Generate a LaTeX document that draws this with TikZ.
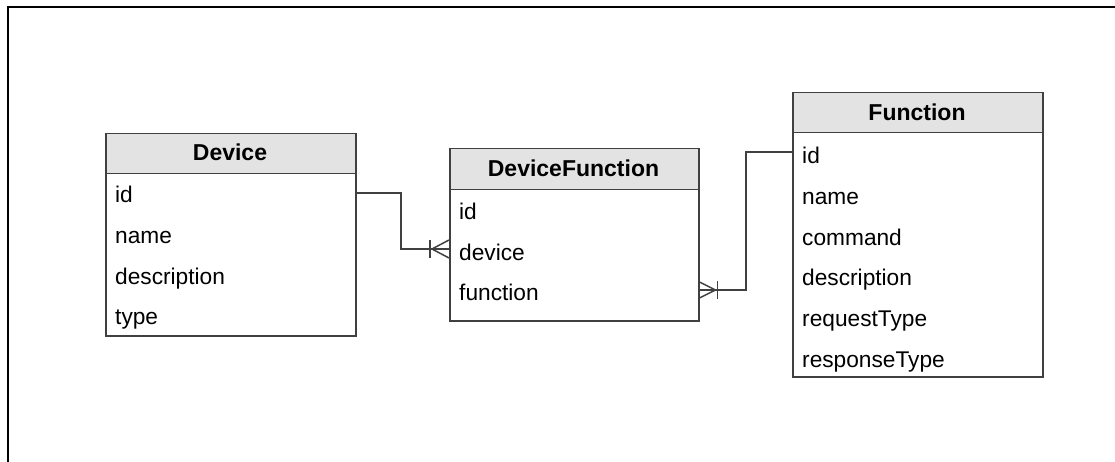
\documentclass[tikz,border=0pt]{standalone}
\usepackage{fontspec}
\setmainfont{Liberation Sans}
\usetikzlibrary{calc}
\definecolor{hdr}{HTML}{E3E3E3}
\definecolor{edge}{HTML}{404040}
\begin{document}
\begin{tikzpicture}[x=1pt,y=-1pt,
  hdrbox/.style={draw=edge,fill=hdr,line width=1.5pt,inner sep=0,anchor=north west},
  bodybox/.style={draw=edge,fill=white,line width=1.5pt,inner sep=0,anchor=north west},
  title/.style={font=\fontsize{23}{27}\selectfont\bfseries,anchor=base,inner sep=0},
  field/.style={font=\fontsize{22.7}{27}\selectfont,anchor=base west,inner sep=0},
  link/.style={draw=edge,line width=1.5pt}]
\useasboundingbox (0,0) rectangle (1115,462);
\draw[line width=2pt] (7.5,462) -- (7.5,7.5) -- (1115,7.5);

% Device
\node[hdrbox,minimum width=250pt,minimum height=40pt] (devhead) at (105,133) {};
\node[bodybox,minimum width=250pt,minimum height=162pt] (devbody) at (105,173) {};
\node[title] (devtitle) at (230,161) {Device};
\node[field] (dev1) at (115,203) {id};
\node[field] (dev2) at (115,243.5) {name};
\node[field] (dev3) at (115,284) {description};
\node[field] (dev4) at (115,324.5) {type};

% DeviceFunction
\node[hdrbox,minimum width=249pt,minimum height=41pt] (dfhead) at (449,148) {};
\node[bodybox,minimum width=249pt,minimum height=131pt] (dfbody) at (449,189) {};
\node[title] (dftitle) at (573.5,177) {DeviceFunction};
\node[field] (df1) at (459,220) {id};
\node[field] (df2) at (459,260) {device};
\node[field] (df3) at (459,300) {function};

% Function
\node[hdrbox,minimum width=250pt,minimum height=40pt] (fnhead) at (792,92) {};
\node[bodybox,minimum width=250pt,minimum height=244pt] (fnbody) at (792,132) {};
\node[title] (fntitle) at (917,121) {Function};
\node[field] (fn1) at (802,164) {id};
\node[field] (fn2) at (802,204.6) {name};
\node[field] (fn3) at (802,245.2) {command};
\node[field] (fn4) at (802,285.8) {description};
\node[field] (fn5) at (802,326.4) {requestType};
\node[field] (fn6) at (802,367) {responseType};

% connector Device.id -> DeviceFunction.device
\coordinate (a0) at ($(devbody.east |- dev1.base)+(0,-10)$);
\coordinate (a1) at ($(dfbody.west |- df2.base)+(0,-11)$);
\draw[link] (a0) -- (401,193) |- (a1);
\draw[link] ($(a1)+(-17,0)$) -- ($(a1)+(0,-9)$);
\draw[link] ($(a1)+(-17,0)$) -- ($(a1)+(0,9)$);
\draw[link] ($(a1)+(-19,-9)$) -- ($(a1)+(-19,9)$);

% connector Function.id -> DeviceFunction.function
\coordinate (b0) at ($(fnbody.west |- fn1.base)+(0,-12)$);
\coordinate (b1) at ($(dfbody.east |- df3.base)+(0,-10)$);
\draw[link] (b0) -- (746,152) |- (b1);
\draw[link] ($(b1)+(16,0)$) -- ($(b1)+(0,-8)$);
\draw[link] ($(b1)+(16,0)$) -- ($(b1)+(0,8)$);
\draw[link] ($(b1)+(18,-9)$) -- ($(b1)+(18,9)$);
\end{tikzpicture}
\end{document}
